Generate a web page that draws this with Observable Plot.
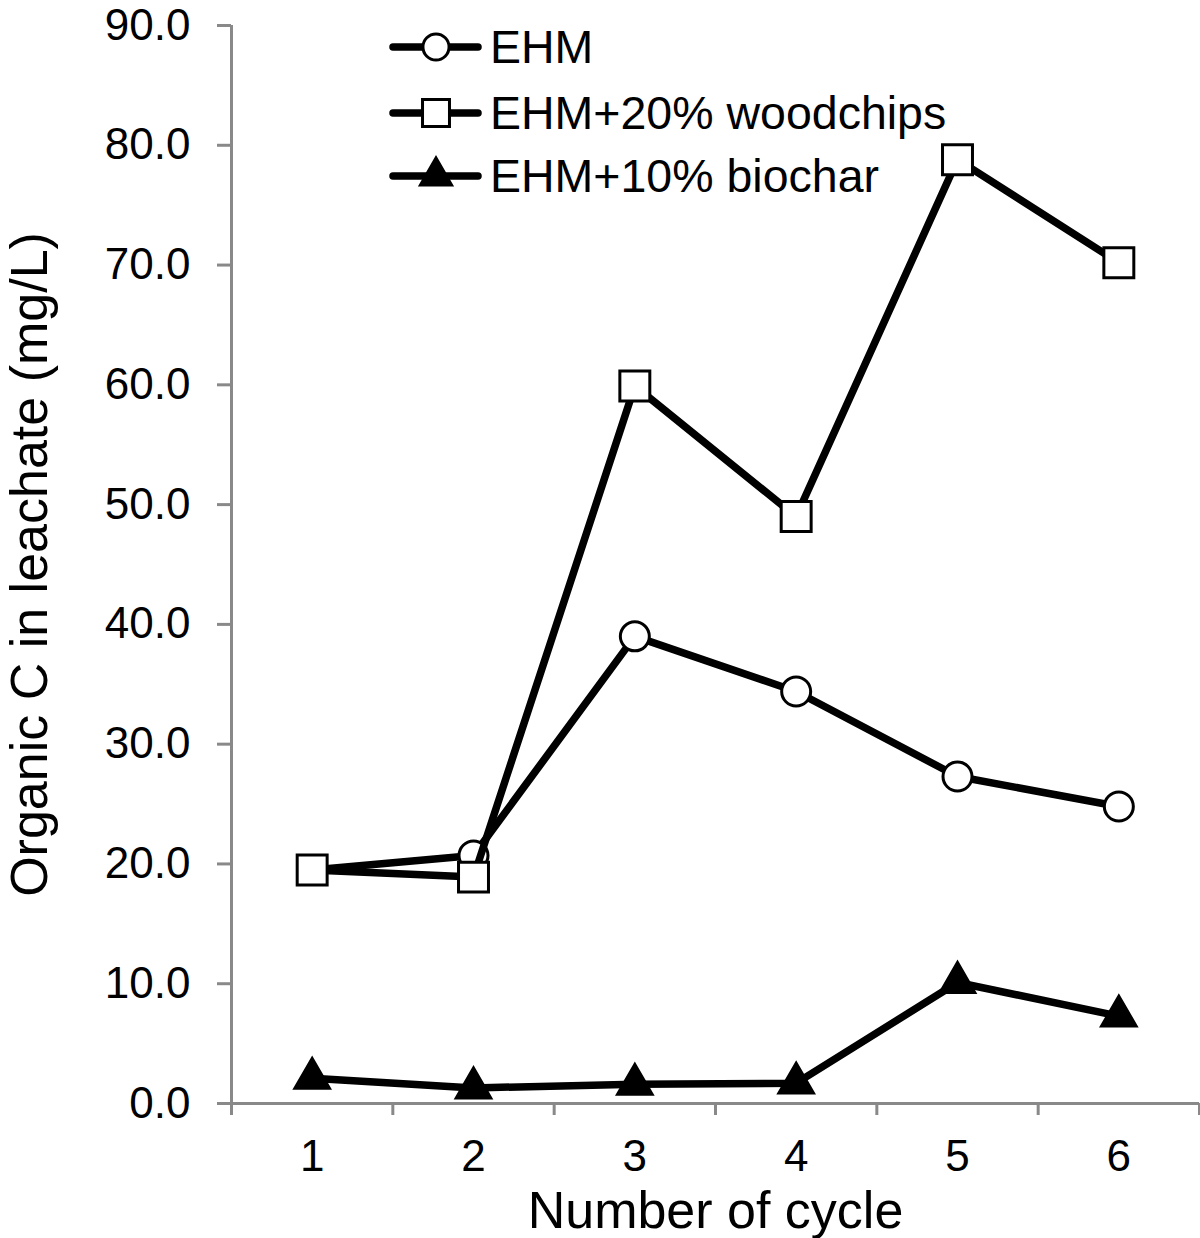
<!DOCTYPE html>
<html><head><meta charset="utf-8">
<script src="https://cdn.jsdelivr.net/npm/d3@7"></script>
<script src="https://cdn.jsdelivr.net/npm/@observablehq/plot@0.6"></script>
<style>
body{margin:0;background:#fff}
#wrap{position:relative;width:1200px;height:1238px;font-family:"Liberation Sans",Arial,sans-serif}
#wrap svg.overlay{position:absolute;left:0;top:0;pointer-events:none}
</style>
</head><body><div id="wrap"></div>
<script>
// ---- data ----
const cycles = [1, 2, 3, 4, 5, 6];
const ehm = [19.5, 20.7, 39.0, 34.4, 27.3, 24.8];
const woodchips = [19.5, 18.9, 59.9, 49.0, 78.8, 70.2];
const biochar = [2.1, 1.3, 1.6, 1.7, 10.1, 7.3];
const seriesNames = ["EHM", "EHM+20% woodchips", "EHM+10% biochar"];
const seriesValues = [ehm, woodchips, biochar];
const yTicks = [0, 10, 20, 30, 40, 50, 60, 70, 80, 90];
const xLabel = "Number of cycle";
const yLabel = "Organic C in leachate (mg/L)";

// ---- styles ----
const symbols = ["circle", "square", "triangle"];
const symbolR = [14.5, 16.9, 12.8];
const symbolFill = ["white", "white", "black"];
const AX = "#898989";
const FONT = "'Liberation Sans', Arial, Helvetica, sans-serif";

const rows = [];
seriesNames.forEach((s, i) => cycles.forEach((c, j) => rows.push({series: s, idx: i, cycle: c, value: seriesValues[i][j]})));
const bounds = cycles.map(c => c - 0.5).concat([cycles[cycles.length - 1] + 0.5]);

const seriesMarks = [];
seriesNames.forEach((s, i) => {
  const d = rows.filter(r => r.idx === i);
  seriesMarks.push(Plot.line(d, {x: "cycle", y: "value", stroke: "black", strokeWidth: 7.5, strokeLinejoin: "round", strokeLinecap: "round"}));
  seriesMarks.push(Plot.dot(d, {x: "cycle", y: "value", symbol: symbols[i], r: symbolR[i], fill: symbolFill[i], stroke: "black", strokeWidth: 3}));
});

const chart = Plot.plot({
  width: 1200, height: 1238,
  marginLeft: 231, marginRight: 1, marginTop: 25, marginBottom: 135,
  x: {domain: [bounds[0], bounds[bounds.length - 1]]},
  y: {domain: [0, 90]},
  style: {fontFamily: FONT, fontSize: "44px", color: "black", background: "white", overflow: "visible"},
  marks: [
    Plot.ruleX([bounds[0]], {stroke: AX, strokeWidth: 3}),
    Plot.ruleY([0], {stroke: AX, strokeWidth: 3}),
    Plot.axisY({ticks: yTicks, tickFormat: d3.format(".1f"), tickSize: 14, tickPadding: 27, stroke: AX, strokeWidth: 3, fill: "black", fontSize: 44, label: null}),
    Plot.axisY({ticks: [], tickSize: 0, label: yLabel, labelAnchor: "center", labelArrow: "none", labelOffset: 221, fontSize: 52, fill: "black"}),
    Plot.axisX({ticks: bounds, tickSize: 12, tickFormat: () => "", stroke: AX, strokeWidth: 3, label: null}),
    Plot.axisX({ticks: cycles, tickSize: 0, tickPadding: 36, tickFormat: d => String(d), fontSize: 44, fill: "black", label: null}),
    Plot.axisX({ticks: [], tickSize: 0, label: xLabel, labelAnchor: "center", labelArrow: "none", labelOffset: 124, fontSize: 52, fill: "black"}),
    ...seriesMarks
  ]
});
document.getElementById("wrap").appendChild(chart);

// ---- legend overlay ----
const leg = d3.select("#wrap").append("svg").attr("class", "overlay").attr("width", 1200).attr("height", 1238);
const legY = [47, 113, 176];
const symTypes = {circle: d3.symbolCircle, square: d3.symbolSquare, triangle: d3.symbolTriangle};
seriesNames.forEach((s, i) => {
  const g = leg.append("g").attr("transform", `translate(0,${legY[i]})`);
  g.append("line").attr("x1", 393).attr("x2", 478).attr("y1", 0).attr("y2", 0)
    .attr("stroke", "black").attr("stroke-width", 7.5).attr("stroke-linecap", "round");
  const r = symbolR[i] * 0.9;
  g.append("path").attr("transform", "translate(436,0)")
    .attr("d", d3.symbol(symTypes[symbols[i]], Math.PI * r * r)())
    .attr("fill", symbolFill[i]).attr("stroke", "black").attr("stroke-width", 3);
  g.append("text").attr("x", 490).attr("y", 0).attr("dy", "0.35em")
    .attr("font-family", FONT).attr("font-size", 46.5).attr("fill", "black").text(s);
});
</script>
</body></html>
